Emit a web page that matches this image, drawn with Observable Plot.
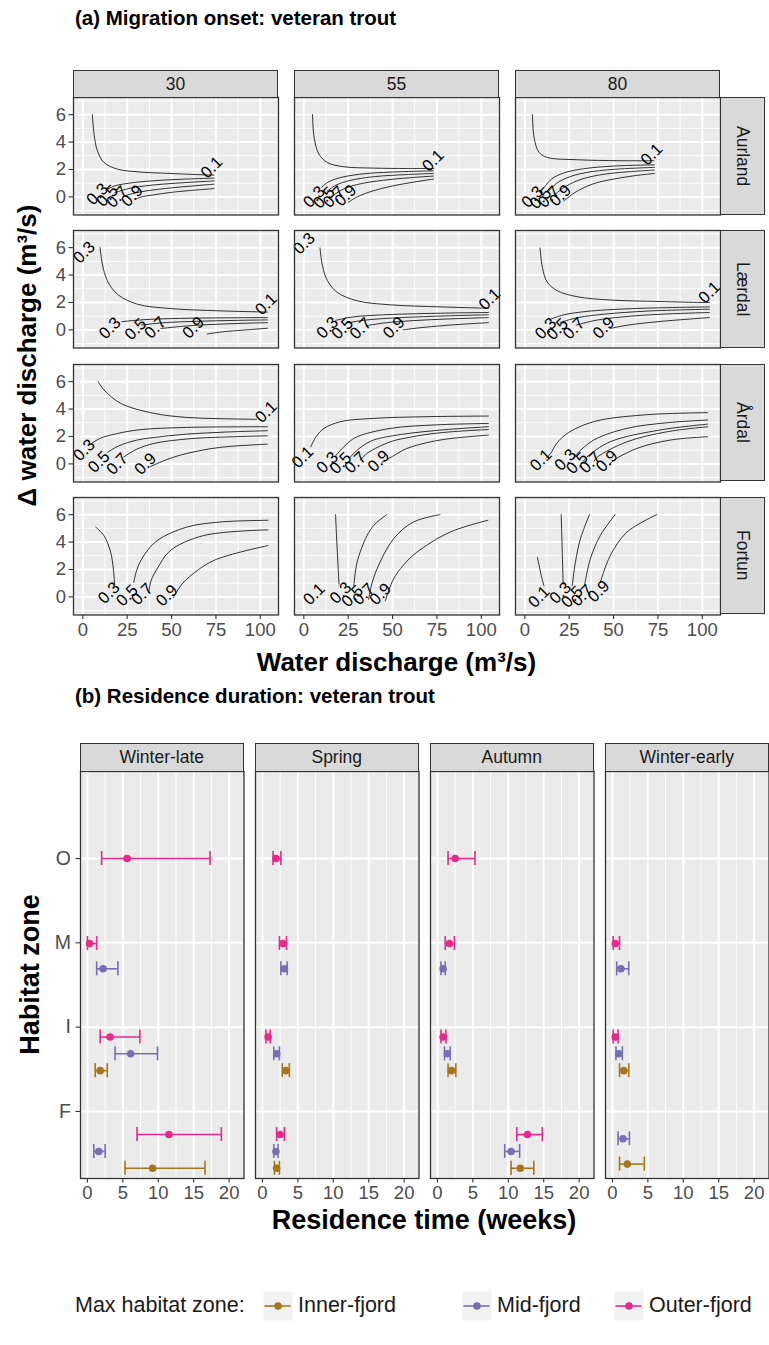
<!DOCTYPE html>
<html><head><meta charset="utf-8">
<script src="https://cdn.jsdelivr.net/npm/d3@7"></script>
<script src="https://cdn.jsdelivr.net/npm/@observablehq/plot@0.6"></script>
<style>
body{margin:0;background:#fff}
#stage{position:relative;width:769px;height:1345px;background:#fff;font-family:"Liberation Sans",Arial,sans-serif;overflow:hidden}
.strip{position:absolute;background:#D9D9D9;border:1.3px solid #333;box-sizing:border-box;color:#1A1A1A;display:flex;align-items:center;justify-content:center}
</style>
</head><body><div id="stage"></div><script>
// ---------- Panel (a) data ----------
const rivers = ["Aurland", "Lærdal", "Årdal", "Fortun"];
const flows = ["30", "55", "80"];
const dischargeTicks = [0, 25, 50, 75, 100];
const deltaTicks = [0, 2, 4, 6];

// contour lines: [level, [[water discharge, delta discharge], ...]]
const aurland30 = [
  ["0.1", [[5.4,6.0],[6.3,4.6],[8.2,3.37],[11.9,2.51],[19.4,2.03],[30.6,1.83],[49.2,1.71],[67.9,1.61],[73.9,1.59]]],
  ["0.3", [[13,0.5],[18,0.8],[26,1.0],[40,1.18],[56,1.29],[74,1.37]]],
  ["0.5", [[18,0.3],[24,0.55],[32,0.75],[45,0.93],[60,1.06],[74,1.17]]],
  ["0.7", [[24,0.1],[30,0.3],[37,0.46],[50,0.66],[62,0.8],[74,0.93]]],
  ["0.9", [[30,-0.15],[33,0],[40,0.15],[49,0.32],[60,0.46],[74,0.61]]]
];
const aurland30Labels = [["0.1",72.6,2.15],["0.3",8.2,0.2],["0.5",13.8,0.07],["0.7",19.4,0],["0.9",27.8,0.07]];
const aurland55 = [
  ["0.1", [[4.9,6.0],[5.8,4.34],[8.5,3.13],[13.2,2.51],[22.5,2.2],[39.3,2.1],[57.9,2.07],[73.3,2.07]]],
  ["0.3", [[10,0.7],[14,1.1],[22,1.45],[35,1.7],[55,1.84],[73,1.9]]],
  ["0.5", [[13,0.4],[18,0.85],[26,1.2],[40,1.48],[58,1.63],[73,1.71]]],
  ["0.7", [[17,0.15],[22,0.55],[30,0.9],[45,1.22],[60,1.4],[73,1.52]]],
  ["0.9", [[25,-0.4],[30,0],[39,0.44],[50,0.8],[62,1.08],[73,1.3]]]
];
const aurland55Labels = [["0.1",72.9,2.64],["0.3",5.8,0],["0.5",11.4,-0.05],["0.7",17,0],["0.9",23.5,0.1]];
const aurland80 = [
  ["0.1", [[4.3,6.0],[5.2,4.34],[8.0,3.25],[12.7,2.88],[29.5,2.71],[53.7,2.64],[72.7,2.64]]],
  ["0.3", [[11,0.7],[15,1.3],[22,1.75],[33,2.05],[50,2.25],[73,2.34]]],
  ["0.5", [[13,0.35],[18,1.0],[26,1.5],[38,1.85],[55,2.05],[73,2.15]]],
  ["0.7", [[16,0.05],[21,0.6],[30,1.2],[42,1.6],[58,1.83],[73,1.96]]],
  ["0.9", [[22,-0.3],[28,0.3],[38,0.93],[50,1.3],[62,1.55],[73,1.71]]]
];
const aurland80Labels = [["0.1",71.4,3.1],["0.3",4.3,0],["0.5",8.9,-0.1],["0.7",13.6,0],["0.9",20.1,0.1]];
const laerdal30 = [
  ["0.1", [[9.7,6.03],[11,4.81],[13.8,3.59],[19.4,2.61],[30.6,1.88],[49.2,1.56],[77.2,1.39],[97.8,1.32],[104,1.3]]],
  ["0.3", [[22,0.6],[35,0.75],[55,0.84],[80,0.88],[104,0.9]]],
  ["0.5", [[33,0.35],[45,0.52],[65,0.63],[85,0.69],[104,0.73]]],
  ["0.7", [[44,0.1],[55,0.25],[70,0.38],[88,0.47],[104,0.53]]],
  ["0.9", [[70,-0.3],[80,-0.12],[92,0],[104,0.12]]]
];
const laerdal30Labels = [["0.3",0.7,5.66],["0.1",103.3,1.88],["0.3",15.3,0.12],["0.5",29.7,0.05],["0.7",40.9,0.17],["0.9",62.3,0.17]];
const laerdal55 = [
  ["0.1", [[9.1,5.98],[10.5,4.69],[13.3,3.59],[18.9,2.73],[30.1,2.12],[48.7,1.83],[76.7,1.68],[100.9,1.59],[104,1.58]]],
  ["0.3", [[18,0.7],[28,0.95],[45,1.1],[70,1.2],[104,1.27]]],
  ["0.5", [[24,0.5],[35,0.72],[55,0.9],[80,1.02],[104,1.1]]],
  ["0.7", [[35,0.3],[45,0.5],[62,0.68],[82,0.8],[104,0.9]]],
  ["0.9", [[56,0.0],[65,0.15],[80,0.33],[104,0.53]]]
];
const laerdal55Labels = [["0.3",0.2,6.3],["0.1",104.7,2.25],["0.3",13.3,0.17],["0.5",21.7,0.1],["0.7",32,0.1],["0.9",50.7,0.17]];
const laerdal80 = [
  ["0.1", [[8.6,5.98],[9.9,4.56],[12.7,3.47],[18.3,2.86],[29.5,2.42],[48.1,2.18],[76.1,2.07],[99.4,2.0],[104,2.0]]],
  ["0.3", [[14,0.75],[22,1.1],[35,1.35],[60,1.55],[104,1.68]]],
  ["0.5", [[20,0.55],[30,0.9],[45,1.15],[70,1.38],[104,1.51]]],
  ["0.7", [[29,0.35],[40,0.7],[55,0.95],[78,1.15],[104,1.27]]],
  ["0.9", [[48,0.1],[58,0.35],[75,0.6],[104,0.9]]]
];
const laerdal80Labels = [["0.1",104,2.73],["0.3",11.8,0.1],["0.5",18.3,0.05],["0.7",27.6,0.1],["0.9",44.4,0.15]];
const ardal30 = [
  ["0.1", [[8.6,6.0],[11.9,5.4],[21.3,4.42],[39.9,3.69],[58.6,3.39],[77.2,3.3],[97.8,3.25]]],
  ["0.3", [[4,1.4],[6.3,1.61],[10,1.88],[15.7,2.1],[30.6,2.47],[58.6,2.66],[104,2.71]]],
  ["0.5", [[14,0.85],[20,1.3],[30.6,1.74],[45,2.0],[58.6,2.17],[80,2.32],[104,2.42]]],
  ["0.7", [[23,0.5],[30,1.05],[40,1.49],[55,1.77],[68,1.9],[104,2.05]]],
  ["0.9", [[38,-0.2],[48,0.35],[58.6,0.76],[77,1.2],[104,1.44]]]
];
const ardal30Labels = [["0.1",103.3,3.8],["0.3",0.7,1.0],["0.5",9.1,0.15],["0.7",19.4,0],["0.9",35.3,0]];
const ardal55 = [
  ["0.1", [[3.9,1.25],[7,2.0],[11.4,2.59],[20.7,3.08],[39.3,3.32],[67.3,3.44],[104,3.49]]],
  ["0.3", [[18,0.6],[20.7,1.0],[25,1.55],[30,1.98],[48.7,2.59],[75,2.85],[104,2.95]]],
  ["0.5", [[26,0.45],[28.1,0.76],[33,1.3],[39.3,1.74],[55,2.15],[80,2.5],[104,2.71]]],
  ["0.7", [[32,0.3],[36,0.8],[48.7,1.61],[60,1.95],[76.7,2.27],[104,2.51]]],
  ["0.9", [[44,0.1],[50,0.55],[58,1.12],[76.7,1.74],[104,2.1]]]
];
const ardal55Labels = [["0.1",-0.7,0.5],["0.3",13.3,0.1],["0.5",20.7,0.05],["0.7",29.1,0.1],["0.9",42.1,0.2]];
const ardal80 = [
  ["0.1", [[12,0.4],[14.5,0.76],[18,1.5],[23.9,2.22],[38.8,3.08],[66.8,3.57],[103,3.74]]],
  ["0.3", [[27,0.4],[29.5,0.76],[38.8,1.74],[57.5,2.59],[80,3.0],[103,3.2]]],
  ["0.5", [[33,0.2],[35,0.51],[48,1.61],[76,2.47],[103,2.9]]],
  ["0.7", [[39,0.2],[41,0.51],[57.5,1.61],[80,2.34],[103,2.71]]],
  ["0.9", [[48,-0.1],[49,0.15],[63,1.12],[82,1.74],[103,1.98]]]
];
const ardal80Labels = [["0.1",9,0.27],["0.3",22.9,0.3],["0.5",29.5,0.05],["0.7",36.9,0.1],["0.9",46.3,0.2]];
const fortun30 = [
  ["0.3", [[7.3,5.09],[11.9,4.47],[15.7,3.25],[17.2,2.03],[17.9,0.93]]],
  ["0.5", [[28.7,1.05],[30.5,2.0],[34.3,3.0],[41.8,4.1],[58.6,5.09],[77.2,5.46],[104.3,5.59]]],
  ["0.7", [[37.1,0.32],[38.5,1.2],[41.8,2.03],[49.2,3.37],[67.9,4.47],[104.3,4.89]]],
  ["0.9", [[51.1,-0.05],[54,0.6],[58.6,1.3],[73.5,2.64],[104.3,3.74]]]
];
const fortun30Labels = [["0.3",14.7,0.3],["0.5",25,0.1],["0.7",33.4,0.2],["0.9",47.4,0.1]];
const fortun55 = [
  ["0.3", [[17.9,6.0],[18.4,4.5],[18.9,3.25],[19.4,2.0],[19.8,0.93]]],
  ["0.5", [[28.2,0.81],[30,2.52],[35.6,4.47],[40,5.3],[46.8,6.0]]],
  ["0.7", [[36.5,-0.17],[38,0.8],[41.2,2.03],[50.5,4.23],[61.7,5.46],[76.7,6.0]]],
  ["0.9", [[45.9,-0.29],[50.5,1.3],[56,2.3],[63.6,3.25],[82.3,4.72],[103.7,5.59]]]
];
const fortun55Labels = [["0.1",5.8,0.2],["0.3",20.7,0.3],["0.5",27.3,0.05],["0.7",33.7,0.2],["0.9",43.1,0.2]];
const fortun80 = [
  ["0.1", [[7.1,2.89],[9.3,1.54],[10.8,0.81]]],
  ["0.3", [[20.5,6.0],[21.1,3.25],[21.6,0.93]]],
  ["0.5", [[36.4,6.0],[31.3,4.23],[28.5,2.52],[26.7,0.81]]],
  ["0.7", [[50.9,6.0],[42.5,4.47],[36.9,2.76],[33.6,0.81]]],
  ["0.9", [[74.3,6.0],[57.5,4.72],[48.1,3.0],[42.5,1.05]]]
];
const fortun80Labels = [["0.1",8,0],["0.3",20.1,0.3],["0.5",26.7,0],["0.7",32.3,0.1],["0.9",41.6,0.4]];

const contourGrid = [
  [aurland30, aurland55, aurland80],
  [laerdal30, laerdal55, laerdal80],
  [ardal30, ardal55, ardal80],
  [fortun30, fortun55, fortun80]
];
const labelGrid = [
  [aurland30Labels, aurland55Labels, aurland80Labels],
  [laerdal30Labels, laerdal55Labels, laerdal80Labels],
  [ardal30Labels, ardal55Labels, ardal80Labels],
  [fortun30Labels, fortun55Labels, fortun80Labels]
];

// ---------- Panel (b) data ----------
const seasons = ["Winter-late", "Spring", "Autumn", "Winter-early"];
const zones = ["O", "M", "I", "F"];
const groups = ["Inner-fjord", "Mid-fjord", "Outer-fjord"];
const groupColors = ["#A6761D", "#7570B3", "#E7298A"];
const weekTicks = [0, 5, 10, 15, 20];
// [season, zone, estimate, lower, upper]  (weeks)
const innerFjord = [
  ["Winter-late","I",1.8,1.1,2.8], ["Winter-late","F",9.2,5.3,16.6],
  ["Spring","I",3.3,2.8,3.8], ["Spring","F",2.0,1.7,2.4],
  ["Autumn","I",2.0,1.5,2.6], ["Autumn","F",11.7,10.4,13.6],
  ["Winter-early","I",1.6,1.0,2.3], ["Winter-early","F",2.1,1.0,4.5]
];
const midFjord = [
  ["Winter-late","M",2.2,1.3,4.3], ["Winter-late","I",6.1,3.9,9.9], ["Winter-late","F",1.6,0.9,2.5],
  ["Spring","M",3.1,2.6,3.5], ["Spring","I",2.0,1.6,2.4], ["Spring","F",1.9,1.6,2.2],
  ["Autumn","M",0.8,0.5,1.1], ["Autumn","I",1.4,1.0,1.8], ["Autumn","F",10.4,9.5,11.6],
  ["Winter-early","M",1.2,0.6,2.3], ["Winter-early","I",0.9,0.5,1.4], ["Winter-early","F",1.5,0.8,2.4]
];
const outerFjord = [
  ["Winter-late","O",5.6,2.0,17.3], ["Winter-late","M",0.3,0.0,1.3], ["Winter-late","I",3.2,1.8,7.4], ["Winter-late","F",11.5,7.0,18.9],
  ["Spring","O",1.9,1.5,2.6], ["Spring","M",2.9,2.4,3.4], ["Spring","I",0.8,0.5,1.1], ["Spring","F",2.5,2.0,3.1],
  ["Autumn","O",2.5,1.5,5.3], ["Autumn","M",1.7,1.1,2.4], ["Autumn","I",0.8,0.5,1.2], ["Autumn","F",12.7,11.2,14.8],
  ["Winter-early","M",0.4,0.1,1.0], ["Winter-early","I",0.4,0.1,0.8]
];

// ---------- layout ----------
const FONT = '"Liberation Sans", Arial, sans-serif';
const TICK = 18.5, STRIP = 17.5, AXTITLE = 26;
const stage = document.getElementById("stage");
function put(el, left, top) { el.style.position = "absolute"; el.style.left = left + "px"; el.style.top = top + "px"; stage.appendChild(el); return el; }
function div(html, css) { const d = document.createElement("div"); d.innerHTML = html; d.style.cssText = css; return d; }

// panel (a) geometry
const A = { left: [73, 294, 515], top: [97, 230.3, 363.6, 496.9], w: 205, h: 117.5 };
const xDomA = [-5.25, 110.25], yDomA = [-1.32, 7.25];
const minorX = [-12.5, 12.5, 37.5, 62.5, 87.5];
const minorY = [-1, 1, 3, 5, 7];

for (let r = 0; r < 4; r++) {
  for (let c = 0; c < 3; c++) {
    const ml = c === 0 ? 40 : 0, mb = r === 3 ? 34 : 0;
    const lines = contourGrid[r][c].flatMap(([level, pts]) => pts.map(([x, y]) => ({level, x, y})));
    const labels = labelGrid[r][c].map(([level, x, y]) => ({level, x, y}));
    const marks = [
      Plot.frame({fill: "#EBEBEB"}),
      Plot.gridX(minorX, {stroke: "#fff", strokeOpacity: 1, strokeWidth: 1}),
      Plot.gridY(minorY, {stroke: "#fff", strokeOpacity: 1, strokeWidth: 1}),
      Plot.gridX(dischargeTicks, {stroke: "#fff", strokeOpacity: 1, strokeWidth: 2}),
      Plot.gridY(deltaTicks, {stroke: "#fff", strokeOpacity: 1, strokeWidth: 2}),
      Plot.line(lines, {x: "x", y: "y", z: "level", stroke: "#000", strokeWidth: 0.8, curve: "catmull-rom"}),
      Plot.text(labels, {x: "x", y: "y", text: "level", rotate: -45, fontSize: 16.5, fill: "#000", fontFamily: FONT}),
      Plot.frame({stroke: "#333", strokeWidth: 1.3})
    ];
    if (c === 0) marks.push(Plot.axisY(deltaTicks, {tickSize: 4.5, tickPadding: 3, fontSize: TICK, fill: "#4D4D4D", stroke: "#333", strokeWidth: 1.1, label: null, fontFamily: FONT}));
    if (r === 3) marks.push(Plot.axisX(dischargeTicks, {tickSize: 4.5, tickPadding: 3, fontSize: TICK, fill: "#4D4D4D", stroke: "#333", strokeWidth: 1.1, label: null, fontFamily: FONT}));
    const p = Plot.plot({
      width: A.w + ml, height: A.h + mb,
      marginLeft: ml, marginRight: 0, marginTop: 0, marginBottom: mb,
      x: {domain: xDomA, axis: null}, y: {domain: yDomA, axis: null},
      style: {background: "transparent", overflow: "visible", fontFamily: FONT},
      marks
    });
    put(p, A.left[c] - ml, A.top[r]);
  }
}
// strips (a)
flows.forEach((f, c) => put(div(f, `width:${A.w}px;height:28px;font-size:${STRIP}px`), A.left[c], A.top[0] - 27).className = "strip");
rivers.forEach((rv, r) => {
  const s = put(div(`<span style="writing-mode:vertical-rl">${rv}</span>`, `width:45px;height:${A.h}px;font-size:${STRIP}px`), 720, A.top[r]);
  s.className = "strip";
});
// titles (a)
put(div("(a) Migration onset: veteran trout", "font-size:20.5px;font-weight:bold;color:#000;white-space:nowrap"), 75, 6);
put(div("Water discharge (m³/s)", `font-size:${AXTITLE}px;font-weight:bold;color:#000;white-space:nowrap;width:647px;text-align:center`), 73, 647);
put(div("Δ water discharge (m³/s)", `font-size:${AXTITLE}px;font-weight:bold;color:#000;white-space:nowrap;width:520px;text-align:center;transform:rotate(-90deg);transform-origin:center`), 27 - 260, 355 - 15);

// panel (b) geometry
const B = { left: [80, 255, 430, 605], top: 771, w: 163.5, h: 407 };
const xDomB = [-0.98, 22.1];
const yDomB = [-1.032, 3.795];      // y in tick units (zone tick k at k)
const zoneStep = 1.158;            // spacing of dodged group centres relative to tick spacing
const dodgeWidth = 0.6;
const capHalf = 0.083;
const groupOrder = ["Outer-fjord", "Mid-fjord", "Inner-fjord"]; // top to bottom within a zone
const allRes = [
  ...innerFjord.map(d => [...d, 0]),
  ...midFjord.map(d => [...d, 1]),
  ...outerFjord.map(d => [...d, 2])
].map(([season, zone, est, lo, hi, g]) => ({season, zone, est, lo, hi, group: groups[g]}));
// position_dodge: split the dodge width among the groups present in each season × zone
d3.group(allRes, d => d.season, d => d.zone).forEach(byZone => byZone.forEach(rows => {
  rows.sort((a, b) => groupOrder.indexOf(a.group) - groupOrder.indexOf(b.group));
  const n = rows.length;
  rows.forEach((d, i) => d.pos = zones.indexOf(d.zone) * zoneStep + (i - (n - 1) / 2) * dodgeWidth / n);
}));

seasons.forEach((s, c) => {
  const ml = c === 0 ? 34 : 0, mb = 34;
  const data = allRes.filter(d => d.season === s);
  const marks = [
    Plot.frame({fill: "#EBEBEB"}),
    Plot.gridX([2.5, 7.5, 12.5, 17.5], {stroke: "#fff", strokeOpacity: 1, strokeWidth: 1}),
    Plot.gridX(weekTicks, {stroke: "#fff", strokeOpacity: 1, strokeWidth: 2}),
    Plot.gridY([0, 1, 2, 3], {stroke: "#fff", strokeOpacity: 1, strokeWidth: 2}),
    Plot.ruleY(data, {y: "pos", x1: "lo", x2: "hi", stroke: "group", strokeWidth: 1.6}),
    Plot.ruleX(data, {x: "lo", y1: d => d.pos - capHalf, y2: d => d.pos + capHalf, stroke: "group", strokeWidth: 1.6}),
    Plot.ruleX(data, {x: "hi", y1: d => d.pos - capHalf, y2: d => d.pos + capHalf, stroke: "group", strokeWidth: 1.6}),
    Plot.dot(data, {x: "est", y: "pos", fill: "group", r: 3.8}),
    Plot.frame({stroke: "#333", strokeWidth: 1.3}),
    Plot.axisX(weekTicks, {tickSize: 4.5, tickPadding: 3, fontSize: TICK, fill: "#4D4D4D", stroke: "#333", strokeWidth: 1.1, label: null, fontFamily: FONT})
  ];
  if (c === 0) marks.push(Plot.axisY([0, 1, 2, 3], {tickFormat: i => zones[i], tickSize: 4.5, tickPadding: 5, fontSize: TICK + 1, fill: "#4D4D4D", stroke: "#333", strokeWidth: 1.1, label: null, fontFamily: FONT}));
  const p = Plot.plot({
    width: B.w + ml, height: B.h + mb,
    marginLeft: ml, marginRight: 0, marginTop: 0, marginBottom: mb,
    x: {domain: xDomB, axis: null},
    y: {domain: yDomB, range: [0, B.h], axis: null},
    color: {domain: groups, range: groupColors},
    style: {background: "transparent", overflow: "visible", fontFamily: FONT},
    marks
  });
  put(p, B.left[c] - ml, B.top);
  const st = put(div(s, `width:${B.w}px;height:29px;font-size:${STRIP}px`), B.left[c], B.top - 28);
  st.className = "strip";
});
put(div("(b) Residence duration: veteran trout", "font-size:20.5px;font-weight:bold;color:#000;white-space:nowrap"), 75, 684);
put(div("Residence time (weeks)", `font-size:${AXTITLE + 1}px;font-weight:bold;color:#000;white-space:nowrap;width:688px;text-align:center`), 80, 1205);
put(div("Habitat zone", `font-size:${AXTITLE + 1}px;font-weight:bold;color:#000;white-space:nowrap;width:400px;text-align:center;transform:rotate(-90deg);transform-origin:center`), 30 - 200, 975 - 16);

// legend
const LEGFONT = 21.5;
put(div("Max habitat zone:", `font-size:${LEGFONT}px;color:#1A1A1A;white-space:nowrap;line-height:29px`), 75, 1291);
const keyCentres = [277, 476, 628];
groups.forEach((g, i) => {
  const key = Plot.plot({
    width: 29, height: 29, margin: 0,
    x: {domain: [0, 1], axis: null}, y: {domain: [0, 1], axis: null},
    style: {background: "transparent", overflow: "visible"},
    marks: [
      Plot.frame({fill: "#F2F2F2"}),
      Plot.ruleY([0.5], {x1: 0.05, x2: 0.95, stroke: groupColors[i], strokeWidth: 1.6}),
      Plot.dot([0.5], {x: 0.5, y: 0.5, fill: groupColors[i], r: 3.8})
    ]
  });
  put(key, keyCentres[i] - 14.5, 1291);
  put(div(g, `font-size:${LEGFONT}px;color:#1A1A1A;white-space:nowrap;line-height:29px`), keyCentres[i] + 21, 1291);
});
</script></body></html>
